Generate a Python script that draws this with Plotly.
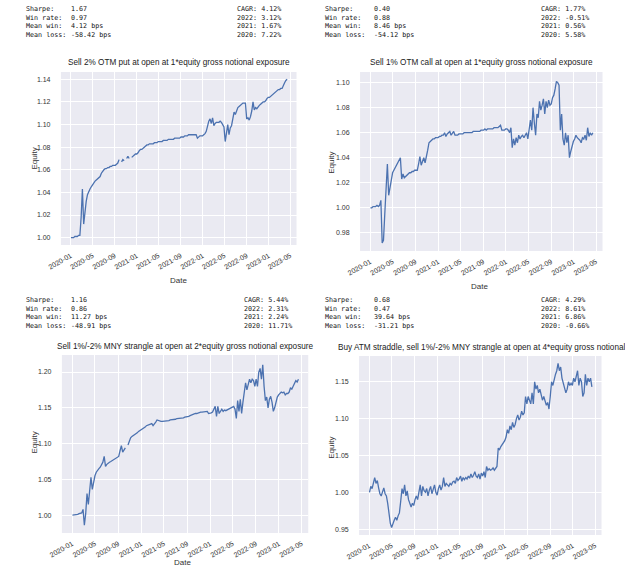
import pandas as pd
import plotly.graph_objects as go

W, H = 625, 569

# ---------------- data (weekly, Fridays from 2020-01-03) ----------------
put_vals = [
    1.000, 1.000, 1.000, 1.001, 1.001,      # 2020-01
    1.001, 1.002, 1.002, 1.018,             # 02
    1.043, 1.012, 1.025, 1.032,             # 03
    1.038, 1.041, 1.043, 1.045,             # 04
    1.047, 1.049, 1.050, 1.051, 1.052,      # 05
    1.053, 1.054, 1.057, 1.059,             # 06
    1.060, 1.061, 1.061, 1.062, 1.062,      # 07
    1.063, 1.063, 1.064, 1.064,             # 08
    1.064, 1.065, 1.066, 1.069,             # 09
    None, 1.067, 1.069, 1.068, None,        # 10
    1.070, 1.072, 1.070, None,              # 11
    1.071, 1.072, 1.073, 1.074,             # 12
    1.074, 1.075, 1.077, 1.078, 1.078,      # 2021-01
    1.079, 1.080, 1.081, 1.082,             # 02
    1.082, 1.083, 1.083, 1.083,             # 03
    1.083, 1.084, 1.084, 1.084, 1.085,      # 04
    1.085, 1.085, 1.085, 1.086,             # 05
    1.086, 1.086, 1.086, 1.087,             # 06
    1.087, 1.087, 1.087, 1.087, 1.088,      # 07
    1.088, 1.088, 1.088, 1.088,             # 08
    1.089, 1.089, 1.089, 1.090,             # 09
    1.090, 1.090, 1.091, 1.091, 1.091,      # 10
    1.091, 1.091, 1.091, 1.091,             # 11
    1.088, 1.089, 1.090, 1.090, 1.090,      # 12
    1.091, 1.092, 1.094, 1.100,             # 2022-01
    1.103, 1.105, 1.101, 1.106,             # 02
    1.099, 1.101, 1.102, 1.102,             # 03
    1.102, 1.103, 1.102, 1.100, 1.098,      # 04
    1.085, 1.095, 1.100, 1.091,             # 05
    1.097, 1.099, 1.105, 1.111,             # 06
    1.109, 1.113, 1.115, 1.116, 1.117,      # 07
    1.118, 1.119, 1.119, 1.119,             # 08
    1.105, 1.106, 1.104, 1.107, 1.112,      # 09
    1.120, 1.113, 1.115, 1.114,             # 10
    1.116, 1.117, 1.118, 1.119,             # 11
    1.120, 1.120, 1.121, 1.123, 1.124,      # 12
    1.124, 1.125, 1.126, 1.127,             # 2023-01
    1.128, 1.129, 1.130, 1.131,             # 02
    1.131, 1.132, 1.132, 1.135, 1.137,      # 03
    1.139, 1.140,                           # 04
]

call_vals = [
    1.000, 1.000, 1.001, 1.001, 1.001,      # 2020-01
    1.002, 1.001, 1.002, 1.006,             # 02
    0.972, 0.974, 0.995, 1.020,             # 03
    1.035, 1.010, 1.018, 1.022,             # 04
    1.028, 1.030, 1.032, 1.033, 1.035,      # 05
    1.037, 1.040, 1.023, 1.027,             # 06
    1.024, 1.025, 1.026, 1.027, 1.028,      # 07
    1.028, 1.029, 1.029, 1.030,             # 08
    1.030, 1.030, 1.035, 1.041,             # 09
    1.034, 1.038, 1.040, 1.036, 1.040,      # 10
    1.046, 1.052, 1.053, 1.054,             # 11
    1.055, 1.055, 1.056, 1.056,             # 12
    1.056, 1.057, 1.057, 1.058, 1.058,      # 2021-01
    1.060, 1.057, 1.059, 1.060,             # 02
    1.061, 1.058, 1.060, 1.061,             # 03
    1.058, 1.058, 1.058, 1.059, 1.059,      # 04
    1.059, 1.059, 1.060, 1.060,             # 05
    1.060, 1.060, 1.060, 1.060,             # 06
    1.060, 1.061, 1.061, 1.061, 1.061,      # 07
    1.061, 1.061, 1.062, 1.062,             # 08
    1.062, 1.063, 1.062, 1.063,             # 09
    1.063, 1.063, 1.063, 1.063, 1.064,      # 10
    1.064, 1.064, 1.064, 1.065,             # 11
    1.066, 1.062, 1.062, 1.062, 1.063,      # 12
    1.063, 1.062, 1.060, 1.064,             # 2022-01
    1.048, 1.055, 1.050, 1.056,             # 02
    1.052, 1.058, 1.055, 1.057,             # 03
    1.058, 1.056, 1.058, 1.060, 1.055,      # 04
    1.062, 1.070, 1.062, 1.080,             # 05
    1.068, 1.058, 1.075, 1.072,             # 06
    1.085, 1.078, 1.082, 1.087, 1.075,      # 07
    1.085, 1.080, 1.086, 1.082,             # 08
    1.083, 1.088, 1.090, 1.095, 1.101,      # 09
    1.100, 1.098, 1.062, 1.075,             # 10
    1.055, 1.050, 1.060, 1.052,             # 11
    1.058, 1.040, 1.045, 1.050, 1.053,      # 12
    1.055, 1.058, 1.056, 1.055,             # 2023-01
    1.054, 1.052, 1.056, 1.055,             # 02
    1.058, 1.054, 1.064, 1.057, 1.060,      # 03
    1.058, 1.060,                           # 04
]

strangle_vals = [
    1.000, 1.000, 1.000, 1.001, 1.001,      # 2020-01
    1.002, 1.002, 1.003, 1.008,             # 02
    0.986, 1.002, 1.030, 1.015,             # 03
    1.030, 1.053, 1.036, 1.046,             # 04
    1.055, 1.060, 1.063, 1.065, 1.067,      # 05
    1.070, 1.074, 1.082, 1.068,             # 06
    1.071, 1.073, 1.074, 1.075, 1.076,      # 07
    1.077, 1.078, 1.079, 1.080,             # 08
    1.082, 1.090, 1.097, 1.088,             # 09
    1.092, 1.094, None, 1.098, 1.103,       # 10
    1.108, 1.110, 1.111, 1.112,             # 11
    1.114, 1.115, 1.117, 1.118,             # 12
    1.119, 1.120, 1.121, 1.123, 1.125,      # 2021-01
    1.126, 1.127, 1.128, 1.128,             # 02
    1.125, 1.127, 1.130, 1.133,             # 03
    1.132, 1.131, 1.131, 1.131, 1.131,      # 04
    1.131, 1.131, 1.132, 1.132,             # 05
    1.133, 1.133, 1.134, 1.134,             # 06
    1.134, 1.135, 1.135, 1.135, 1.135,      # 07
    1.136, 1.136, 1.137, 1.137,             # 08
    1.138, 1.138, 1.139, 1.140,             # 09
    1.141, 1.141, 1.142, 1.142, 1.143,      # 10
    1.143, 1.144, 1.144, 1.144,             # 11
    1.145, 1.145, 1.145, 1.142, 1.142,      # 12
    1.143, 1.144, 1.148, 1.152,             # 2022-01
    1.138, 1.152, 1.142, 1.146,             # 02
    1.148, 1.145, 1.147, 1.146,             # 03
    1.147, 1.148, 1.149, 1.150, 1.152,      # 04
    1.152, 1.148, 1.135, 1.160,             # 05
    1.145, 1.162, 1.142, 1.158,             # 06
    1.170, 1.185, 1.175, 1.182, 1.190,      # 07
    1.185, 1.190, 1.188, 1.180,             # 08
    1.190, 1.180, 1.200, 1.205, 1.190,      # 09
    1.210, 1.180, 1.160, 1.165,             # 10
    1.150, 1.162, 1.166, 1.158,             # 11
    1.145, 1.150, 1.160, 1.165, 1.168,      # 12
    1.170, 1.172, 1.171, 1.172,             # 2023-01
    1.168, 1.170, 1.170, 1.172,             # 02
    1.178, 1.176, 1.180, 1.185, 1.188,      # 03
    1.186, 1.190,                           # 04
]

straddle_vals = [
    1.000, 1.008, 1.005, 1.015, 1.020,      # 2020-01
    1.012, 1.016, 1.006, 0.998,             # 02
    0.995, 1.001, 1.006, 0.998,             # 03
    0.995, 0.985, 0.970, 0.958,             # 04
    0.952, 0.958, 0.962, 0.966, 0.962,      # 05
    0.968, 0.972, 0.988, 1.005,             # 06
    0.998, 1.010, 0.995, 1.002, 0.990,      # 07
    0.985, 0.980, 0.985, 0.982,             # 08
    0.990, 0.995, 0.990, 1.000,             # 09
    1.010, 0.995, 1.008, 1.002, 1.000,      # 10
    1.005, 0.995, 1.003, 1.008,             # 11
    0.998, 1.006, 1.010, 1.000,             # 12
    0.996, 1.005, 1.010, 1.003, 1.008,      # 2021-01
    1.020, 1.008, 1.012, 1.010,             # 02
    1.008, 1.012, 1.010, 1.014,             # 03
    1.015, 1.012, 1.020, 1.016, 1.018,      # 04
    1.022, 1.015, 1.020, 1.017,             # 05
    1.020, 1.018, 1.022, 1.019,             # 06
    1.025, 1.020, 1.023, 1.028, 1.022,      # 07
    1.020, 1.025, 1.018, 1.026,             # 08
    1.022, 1.028, 1.020, 1.035,             # 09
    1.030, 1.032, 1.030, 1.031, 1.033,      # 10
    1.030, 1.032, 1.035, 1.060,             # 11
    1.058, 1.062, 1.065, 1.068, 1.070,      # 12
    1.075, 1.085, 1.080, 1.090,             # 2022-01
    1.085, 1.095, 1.088, 1.092,             # 02
    1.100, 1.105, 1.098, 1.102,             # 03
    1.110, 1.105, 1.108, 1.130, 1.120,      # 04
    1.130, 1.125, 1.120, 1.135,             # 05
    1.120, 1.150, 1.140, 1.145,             # 06
    1.135, 1.140, 1.132, 1.125, 1.130,      # 07
    1.125, 1.118, 1.122, 1.113,             # 08
    1.130, 1.150, 1.145, 1.155, 1.160,      # 09
    1.165, 1.175, 1.165, 1.170,             # 10
    1.155, 1.148, 1.140, 1.135,             # 11
    1.140, 1.150, 1.145, 1.148, 1.145,      # 12
    1.155, 1.150, 1.160, 1.165,             # 2023-01
    1.145, 1.155, 1.150, 1.130,             # 02
    1.135, 1.160, 1.145, 1.155, 1.150,      # 03
    1.155, 1.143,                           # 04
]

titles = [
    "Sell 2% OTM put at open at 1*equity gross notional exposure",
    "Sell 1% OTM call at open at 1*equity gross notional exposure",
    "Sell 1%/-2% MNY strangle at open at 2*equity gross notional exposure",
    "Buy ATM straddle, sell 1%/-2% MNY strangle at open at 4*equity gross notional",
]

stat_labels = ["Sharpe:", "Win rate:", "Mean win:", "Mean loss:"]
put_stats = ["1.67", "0.97", "4.12 bps", "-58.42 bps"]
call_stats = ["0.40", "0.88", "8.46 bps", "-54.12 bps"]
strangle_stats = ["1.16", "0.86", "11.27 bps", "-48.91 bps"]
straddle_stats = ["0.68", "0.47", "39.64 bps", "-31.21 bps"]
put_years = ["CAGR: 4.12%", "2022: 3.12%", "2021: 1.67%", "2020: 7.22%"]
call_years = ["CAGR: 1.77%", "2022: -0.51%", "2021: 0.56%", "2020: 5.58%"]
strangle_years = ["CAGR: 5.44%", "2022: 2.31%", "2021: 2.24%", "2020: 11.71%"]
straddle_years = ["CAGR: 4.29%", "2022: 8.61%", "2021: 6.86%", "2020: -0.66%"]

tick_dates = ["2020-01-01", "2020-05-01", "2020-09-01", "2021-01-01", "2021-05-01",
              "2021-09-01", "2022-01-01", "2022-05-01", "2022-09-01", "2023-01-01",
              "2023-05-01"]
tick_labels = ["2020-01", "2020-05", "2020-09", "2021-01", "2021-05", "2021-09",
               "2022-01", "2022-05", "2022-09", "2023-01", "2023-05"]

put_yticks = [1.00, 1.02, 1.04, 1.06, 1.08, 1.10, 1.12, 1.14]
call_yticks = [0.98, 1.00, 1.02, 1.04, 1.06, 1.08, 1.10]
strangle_yticks = [1.00, 1.05, 1.10, 1.15, 1.20]
straddle_yticks = [0.95, 1.00, 1.05, 1.10, 1.15]

# ---------------- layout helpers ----------------
def px(x):
    return x / W

def py(y):
    return 1 - y / H

BG = "#EAEAF2"
LINE = "#4C72B0"
TXT = "#333333"
SANS = "Liberation Sans, Arial, sans-serif"
MONO = "DejaVu Sans Mono, monospace"

panels = [
    dict(vals=put_vals, box=(48, 289, 72, 245), yr=[0.9935, 1.1465], yt=put_yticks,
         stats=put_stats, years=put_years, sx=10, vx=56, cx=226, sy=3),
    dict(vals=call_vals, box=(354, 602, 72, 251), yr=[0.9655, 1.1085], yt=call_yticks,
         stats=call_stats, years=call_years, sx=316, vx=366, cx=537, sy=3),
    dict(vals=strangle_vals, box=(49, 301, 355, 533), yr=[0.975, 1.2238], yt=strangle_yticks,
         stats=strangle_stats, years=strangle_years, sx=10, vx=56, cx=233, sy=294),
    dict(vals=straddle_vals, box=(353, 601, 356, 535), yr=[0.942, 1.185], yt=straddle_yticks,
         stats=straddle_stats, years=straddle_years, sx=316, vx=366, cx=537, sy=294),
]

fig = go.Figure()
annotations = []
layout = {}

for i, p in enumerate(panels, start=1):
    dates = pd.date_range("2020-01-03", periods=len(p["vals"]), freq="W-FRI")
    xa = "x" if i == 1 else f"x{i}"
    ya = "y" if i == 1 else f"y{i}"
    fig.add_trace(go.Scatter(
        x=dates, y=p["vals"], mode="lines", xaxis=xa, yaxis=ya,
        line=dict(color=LINE, width=1.3), connectgaps=False, showlegend=False,
        hoverinfo="skip",
    ))
    l, r, t, b = p["box"]
    xkey = "xaxis" if i == 1 else f"xaxis{i}"
    ykey = "yaxis" if i == 1 else f"yaxis{i}"
    layout[xkey] = dict(
        domain=[px(l), px(r)], anchor=ya, type="date",
        range=["2019-11-08", "2023-06-05"],
        tickvals=tick_dates, ticktext=tick_labels, tickangle=-30,
        showgrid=True, gridcolor="white", gridwidth=1, zeroline=False,
        showline=False, ticks="outside", ticklen=3, tickcolor="rgba(0,0,0,0)",
        tickfont=dict(family=SANS, size=7, color=TXT),
    )
    layout[ykey] = dict(
        domain=[py(b), py(t)], anchor=xa, range=p["yr"],
        tickvals=p["yt"], tickformat=".2f",
        showgrid=True, gridcolor="white", gridwidth=1, zeroline=False,
        showline=False, ticks="outside", ticklen=8, tickcolor="rgba(0,0,0,0)",
        tickfont=dict(family=SANS, size=7, color=TXT),
    )
    fig.add_shape(type="rect", xref="paper", yref="paper",
                  x0=px(l), x1=px(r), y0=py(b), y1=py(t),
                  fillcolor=BG, line=dict(width=0), layer="below")
    cx_title = (l + r) / 2
    if i == 4:
        annotations.append(dict(text=titles[i - 1], x=px(329), y=py(t - 9),
                                xanchor="left", yanchor="middle"))
    else:
        annotations.append(dict(text=titles[i - 1], x=px(cx_title), y=py(t - 9),
                                xanchor="center", yanchor="middle"))
    annotations[-1].update(xref="paper", yref="paper", showarrow=False,
                           font=dict(family=SANS, size=8.2, color="#222222"))
    annotations.append(dict(text="<br>".join(stat_labels), x=px(p["sx"]), y=py(p["sy"]),
                            xanchor="left", yanchor="top", align="left"))
    annotations.append(dict(text="<br>".join(p["stats"]), x=px(p["vx"]), y=py(p["sy"]),
                            xanchor="left", yanchor="top", align="left"))
    annotations.append(dict(text="<br>".join(p["years"]), x=px(p["cx"]), y=py(p["sy"]),
                            xanchor="left", yanchor="top", align="left"))
    for a in annotations[-3:]:
        a.update(xref="paper", yref="paper", showarrow=False,
                 font=dict(family=MONO, size=6.7, color="#111111"))

axis_titles = [
    ("Equity", 20, 159, -90), ("Equity", 324, 163, -90),
    ("Equity", 20, 443, -90), ("Equity", 324, 448, -90),
    ("Date", 168, 280, 0), ("Date", 476, 286, 0), ("Date", 172, 562, 0),
]
for text, x, y, ang in axis_titles:
    annotations.append(dict(text=text, x=px(x), y=py(y), xref="paper", yref="paper",
                            xanchor="center", yanchor="middle", textangle=ang,
                            showarrow=False, font=dict(family=SANS, size=8, color=TXT)))

fig.update_layout(
    width=W, height=H, margin=dict(l=0, r=0, t=0, b=0),
    paper_bgcolor="white", plot_bgcolor="rgba(0,0,0,0)",
    annotations=annotations, **layout,
)

fig.write_html(
    "out.html",
    config={"displayModeBar": False},
    post_script="document.body.style.margin='0';document.body.style.padding='0';"
                "document.body.style.overflow='hidden';",
)
